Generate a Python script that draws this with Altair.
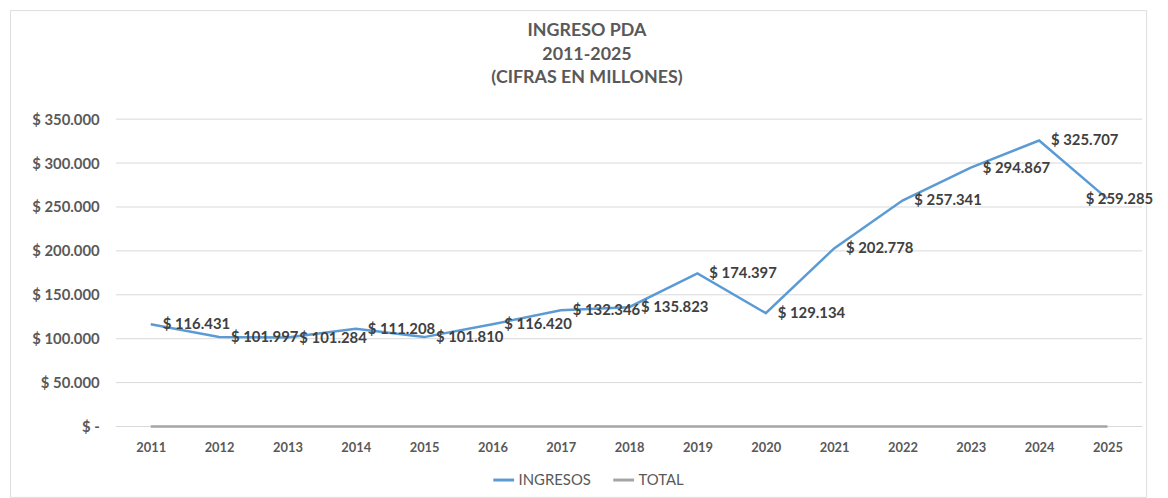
import altair as alt
import pandas as pd

years = list(range(2011, 2026))
ingresos = [116431, 101997, 101284, 111208, 101810, 116420, 132346, 135823,
            174397, 129134, 202778, 257341, 294867, 325707, 259285]
total = [0] * 15
series_names = ["INGRESOS", "TOTAL"]
series_colors = ["#5B9BD5", "#A5A5A5"]
y_ticks = [0, 50000, 100000, 150000, 200000, 250000, 300000, 350000]
title_lines = ["INGRESO PDA", "2011-2025", "(CIFRAS EN MILLONES)"]

rows = []
for y, a, t in zip(years, ingresos, total):
    rows.append({"year": y, "value": a, "serie": "INGRESOS"})
    rows.append({"year": y, "value": t, "serie": "TOTAL"})
lines_df = pd.DataFrame(rows)

labels_df = pd.DataFrame({
    "year": years,
    "value": ingresos,
    "label": ["$ " + f"{v:,}".replace(",", ".") for v in ingresos],
})
grid_df = pd.DataFrame({"v": y_ticks})

FONT = "Lato"
GREY = "#595959"

xscale = alt.Scale(domain=[2011, 2025], range=[142, 1107], nice=False, zero=False)
yscale = alt.Scale(domain=[0, 350000], range=[420, 110], nice=False)

x_enc = alt.X("year:Q", scale=xscale, title=None,
              axis=alt.Axis(values=years, format="d", grid=False, domain=False, ticks=False,
                            offset=-71, labelPadding=15, labelFlush=False, labelBound=False,
                            labelFont=FONT, labelFontSize=13,
                            labelFontWeight="bold", labelColor=GREY))
y_enc = alt.Y("value:Q", scale=yscale, title=None,
              axis=alt.Axis(values=y_ticks, grid=False, domain=False, ticks=False,
                            offset=-95, labelPadding=5, labelFlush=False,
                            labelFont=FONT, labelFontSize=15,
                            labelFontWeight="bold", labelColor=GREY,
                            labelExpr="datum.value == 0 ? '$ -' : '$ ' + format(datum.value / 1000, 'd') + '.000'"))

grid = alt.Chart(grid_df).mark_rule(color="#D9D9D9", strokeWidth=1).encode(
    y=alt.Y("v:Q", scale=yscale),
    x=alt.value(107),
    x2=alt.value(1142),
)

lines = alt.Chart(lines_df).mark_line(strokeWidth=2.5).encode(
    x=x_enc,
    y=y_enc,
    color=alt.Color("serie:N",
                    scale=alt.Scale(domain=series_names, range=series_colors),
                    legend=alt.Legend(title=None, orient="none", direction="horizontal",
                                      legendX=486, legendY=462, symbolType="stroke",
                                      symbolSize=441, symbolStrokeWidth=3,
                                      labelFont=FONT, labelFontSize=15, labelColor=GREY,
                                      labelOffset=3, columnPadding=16)),
    order=alt.Order("year:Q"),
)

labels_main = alt.Chart(labels_df).transform_filter("datum.year < 2025").mark_text(
    align="left", baseline="middle", dx=12, font=FONT, fontSize=15, fontWeight="bold",
    color="#404040").encode(x=alt.X("year:Q", scale=xscale), y=alt.Y("value:Q", scale=yscale),
                            text="label:N")
labels_last = alt.Chart(labels_df).transform_filter("datum.year == 2025").mark_text(
    align="left", baseline="middle", dx=-22, font=FONT, fontSize=15, fontWeight="bold",
    color="#404040").encode(x=alt.X("year:Q", scale=xscale), y=alt.Y("value:Q", scale=yscale),
                            text="label:N")

chart = alt.layer(grid, lines, labels_main, labels_last).properties(
    width=1146,
    height=491,
    title=alt.Title(title_lines, font=FONT, fontSize=18, fontWeight="bold", color=GREY,
                    lineHeight=24, anchor="middle", frame="group", baseline="top",
                    offset=-78, dx=9),
    autosize=alt.AutoSizeParams(type="none"),
    padding={"left": 2, "top": 0, "right": 14, "bottom": 0},
).configure_view(stroke="#D9D9D9", strokeWidth=1).configure(background="white")

chart.save("out.html", embed_options={"renderer": "svg", "actions": False})
